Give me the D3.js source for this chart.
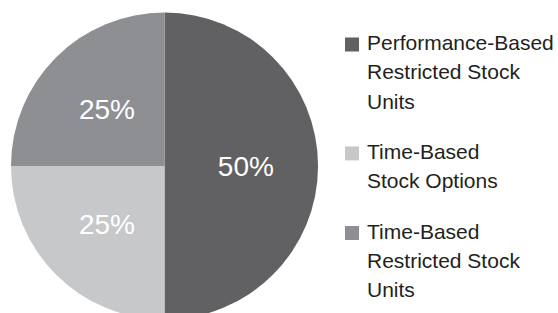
<!DOCTYPE html>
<html lang="en">
<head>
  <meta charset="UTF-8">
  <title>Equity Award Mix</title>
  <script src="https://d3js.org/d3.v7.min.js"></script>
  <style>
    body { margin: 0; background: #fff; }
    text { font-family: "Liberation Sans", Arial, Helvetica, sans-serif; }
  </style>
</head>
<body>
  <svg id="chart" width="558" height="313"></svg>

  <script>
    // Data, in legend order
    const categories = [
      ['Performance-Based', 'Restricted Stock', 'Units'],
      ['Time-Based', 'Stock Options'],
      ['Time-Based', 'Restricted Stock', 'Units']
    ];
    const shares = [50, 25, 25];
    const colors = ['#616163', '#c7c8ca', '#8e8f93'];

    const svg = d3.select('#chart');

    const cx = 164.5, cy = 166, radius = 153.5;

    // Pie layout: start at 12 o'clock, keep data order
    const pie = d3.pie().sort(null).value(d => d);
    const arc = d3.arc().innerRadius(0).outerRadius(radius);
    // labels sit a bit further out than the default centroid
    const labelArc = d3.arc().innerRadius(radius * 0.53).outerRadius(radius * 0.53);

    const pieGroup = svg.append('g')
      .attr('transform', `translate(${cx},${cy})`);

    const slices = pieGroup.selectAll('g.slice')
      .data(pie(shares))
      .enter().append('g')
      .attr('class', 'slice');

    slices.append('path')
      .attr('d', arc)
      .style('fill', (d, i) => colors[i]);

    slices.append('text')
      .attr('transform', d => `translate(${labelArc.centroid(d)})`)
      .attr('text-anchor', 'middle')
      .attr('dy', '0.36em')
      .style('fill', '#fff')
      .style('font-size', '28px')
      .text(d => d.value + '%');

    // Legend
    const lineHeight = 29.3, itemGap = 21;
    const legend = svg.append('g').attr('transform', 'translate(345,50)');

    let y = 0;
    categories.forEach((lines, i) => {
      const item = legend.append('g').attr('transform', `translate(0,${y})`);
      item.append('rect')
        .attr('x', 0).attr('y', -12.5)
        .attr('width', 14).attr('height', 14)
        .style('fill', colors[i]);
      const label = item.append('text')
        .attr('x', 22)
        .style('font-size', '21px')
        .style('fill', '#231f20');
      lines.forEach((line, j) => {
        label.append('tspan')
          .attr('x', 22)
          .attr('y', j * lineHeight)
          .text(line);
      });
      y += lines.length * lineHeight + itemGap;
    });
  </script>
</body>
</html>
